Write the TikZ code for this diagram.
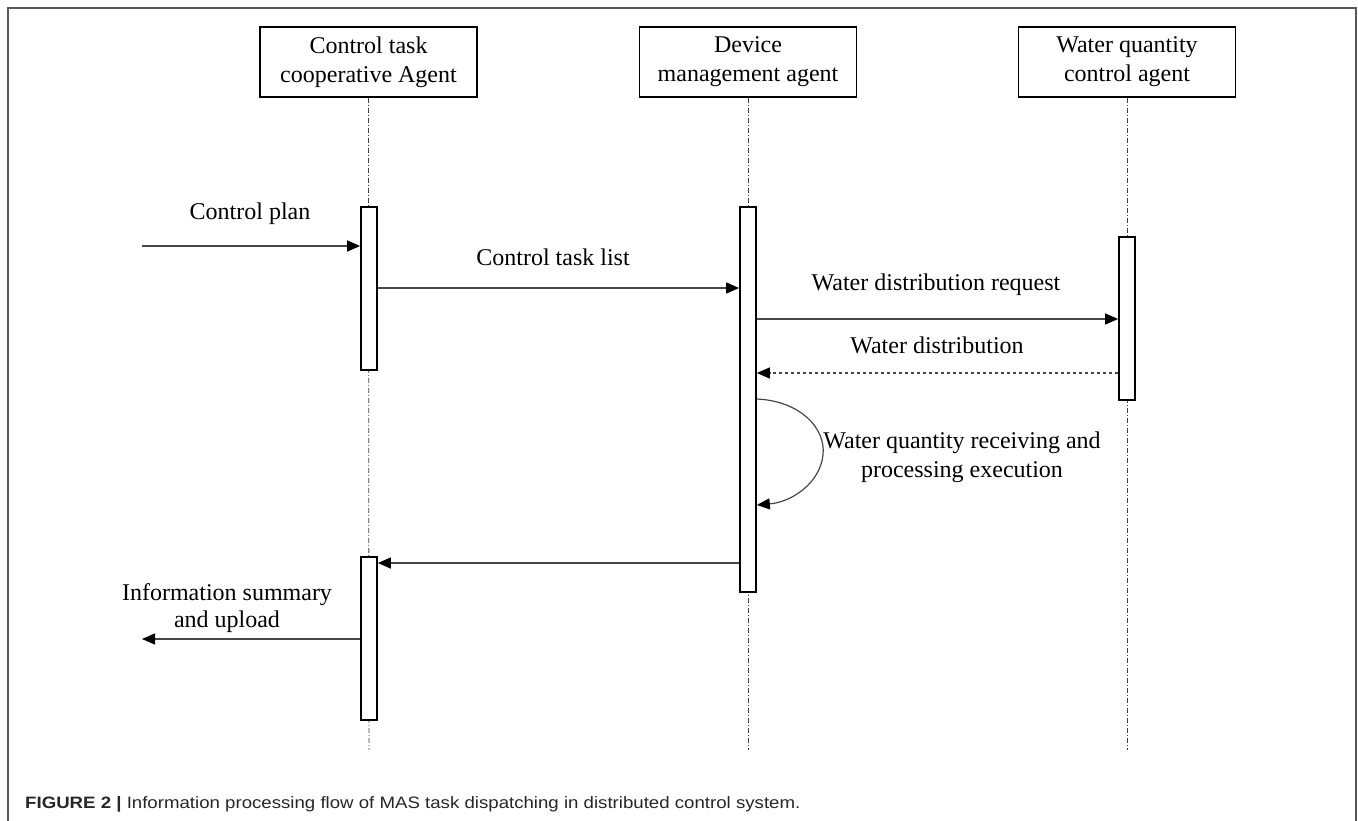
\documentclass[tikz,border=0pt]{standalone}
\usepackage{fontspec}
\usepackage{graphicx}
\setmainfont{Liberation Serif}
\setsansfont{Liberation Sans}
\usetikzlibrary{arrows.meta}
\begin{document}
\begin{tikzpicture}[x=1pt,y=-1pt,
  hdr/.style={draw=black,line width=1.8pt,fill=white,minimum width=217pt,minimum height=70pt,align=center,inner sep=0pt,font=\fontsize{24}{29}\selectfont},
  actbox/.style={draw=black,line width=1.7pt,fill=white,minimum width=16pt,inner sep=0pt},
  lifeline/.style={draw=black!75,line width=0.8pt,dash pattern=on 5pt off 2pt on 1pt off 2pt},
  msg/.style={draw=black!72,line width=1.3pt,-{Triangle[length=13pt,width=11pt,color=black]}},
  lbl/.style={font=\fontsize{24}{29}\selectfont,align=center,inner sep=0pt},
  frameline/.style={draw=black!65,line width=1.6pt}
]
\useasboundingbox (0,0) rectangle (1358,820);
\draw[frameline] (8,821) -- (8,8) -- (1356,8) -- (1356,821);

% headers
\node[hdr] (h1) at (368.5,62) {Control task\\cooperative Agent};
\node[hdr] (h2) at (748,62) {Device\\management agent};
\node[hdr] (h3) at (1127,62) {Water quantity\\control agent};

% lifeline ends
\coordinate (e1) at (369,750);
\coordinate (e2) at (748,750);
\coordinate (e3) at (1127,750);
\draw[lifeline] (h1.south) -- (e1);
\draw[lifeline] (h2.south) -- (e2);
\draw[lifeline] (h3.south) -- (e3);

% activations
\node[actbox,minimum height=163pt] (a1) at (369,288.5) {};
\node[actbox,minimum height=385pt] (a2) at (748,399.5) {};
\node[actbox,minimum height=163pt] (a3) at (1127,318.5) {};
\node[actbox,minimum height=163pt] (a4) at (369,638.5) {};

% free ends
\coordinate (cpin) at (142,246);
\coordinate (upout) at (142,639);

% messages
\draw[msg] (cpin) -- (a1.west |- cpin);
\node[lbl,anchor=base] (lcp) at (250,219) {Control plan};

\draw[msg] (a1.east |- 0,288) -- (a2.west |- 0,288);
\node[lbl,anchor=base] (lct) at (553,265) {Control task list};

\draw[msg] (a2.east |- 0,319) -- (a3.west |- 0,319);
\node[lbl,anchor=base] (lwr) at (936,290) {Water distribution request};

\draw[msg,dashed] (a3.west |- 0,373) -- (a2.east |- 0,373);
\node[lbl,anchor=base] (lwd) at (937,353) {Water distribution};

\draw[msg,line width=1.2pt] (a2.east |- 0,399) .. controls (800,401) and (826,428) .. (823,455) .. controls (820,483) and (792,502) .. (a2.east |- 0,505);
\node[lbl,anchor=base] (lq1) at (962,448) {Water quantity receiving and};
\node[lbl,anchor=base] (lq2) at (962,477) {processing execution};

\draw[msg] (a2.west |- 0,563) -- (a4.east |- 0,563);

\draw[msg] (a4.west |- upout) -- (upout);
\node[lbl,anchor=base] (lu1) at (227,600) {Information summary};
\node[lbl,anchor=base] (lu2) at (227,627) {and upload};

% caption
\node[anchor=base west,inner sep=0pt,font=\sffamily\fontsize{16.5}{20}\selectfont,text=black!85] (cap) at (25,808)
 {\scalebox{1.13}[1]{\textbf{FIGURE 2} \textbf{|} Information processing flow of MAS task dispatching in distributed control system.}};
\end{tikzpicture}
\end{document}
